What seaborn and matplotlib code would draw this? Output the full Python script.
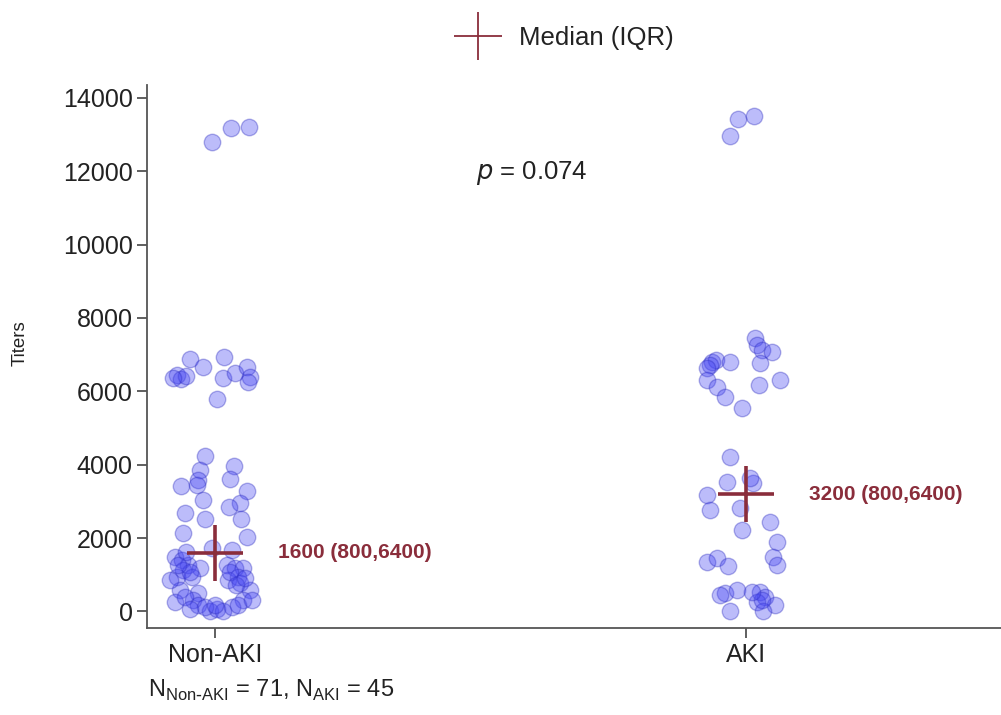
import numpy as np
import pandas as pd
import matplotlib.pyplot as plt
from matplotlib.lines import Line2D
import seaborn as sns

# ---------------------------------------------------------------
# Data
# ---------------------------------------------------------------
groups = ['Non-AKI', 'AKI']

# Non-AKI: titer values and horizontal jitter (in category units)
nonaki_titer = [12800, 13180, 13210,
                6442, 6333, 6414, 6360, 6877, 6659, 6931, 5789, 6360, 6496, 6659, 6387, 6251,
                4240, 3860, 3588, 3452, 3425, 3044, 3968, 3615, 3289, 2963, 2854, 2691, 2528, 2528,
                2147, 2039, 1740, 1685, 1495, 1413, 1277, 1196, 1142, 1277, 1196, 1196, 951, 951,
                870, 951, 788, 598, 598, 516, 326, 326, 245, 190, 0, 54, 0, 109, 190, 109,
                1631, 1087, 1277, 1087, 734, 924, 381, 54, 190, 870, 326]
nonaki_jitter = [-0.006, 0.030, 0.064,
                 -0.072, -0.064, -0.055, -0.079, -0.047, -0.023, 0.017, 0.004, 0.015, 0.038, 0.060, 0.066, 0.062,
                 -0.019, -0.028, -0.032, -0.034, -0.064, -0.023, 0.036, 0.028, 0.060, 0.047, 0.026, -0.056, -0.019, 0.049,
                 -0.060, 0.060, -0.006, 0.032, -0.075, -0.062, -0.051, -0.028, -0.060, 0.023, 0.038, 0.053, -0.072, -0.043,
                 0.024, 0.043, 0.047, 0.066, -0.066, -0.032, -0.041, 0.053, -0.075, -0.032, -0.009, 0.004, 0.015, 0.032, 0.043, -0.019,
                 -0.055, -0.047, -0.070, 0.028, 0.040, 0.056, -0.056, -0.047, 0.000, -0.085, 0.070]

# AKI
aki_titer = [12965, 13427, 13508,
             7447, 7257, 7121, 7067, 6768, 6795, 6849, 6713, 6795, 6632, 6306, 6116, 5844, 5545, 6170, 6306,
             4213, 3533, 3506, 3642, 3180, 2772, 2827, 2446, 2229, 1903, 1359, 1468, 1250, 1495, 1277,
             516, 598, 544, 408, 245, 190, 0, 0, 326, 544, 462]
aki_jitter = [-0.030, -0.015, 0.015,
              0.017, 0.021, 0.030, 0.049, 0.026, -0.064, -0.056, -0.068, -0.030, -0.073, -0.073, -0.055, -0.040, -0.008, 0.024, 0.064,
              -0.030, -0.036, 0.013, 0.008, -0.073, -0.068, -0.011, 0.045, -0.008, 0.058, -0.073, -0.055, -0.034, 0.051, 0.058,
              -0.040, -0.017, 0.026, 0.036, 0.021, 0.055, -0.030, 0.032, 0.030, 0.011, -0.049]

medians = [1600, 3200]
q1 = [800, 800]
q3 = [6400, 6400]
n_counts = [71, 45]
p_value = 0.074

# ---------------------------------------------------------------
# Data frame for seaborn
# ---------------------------------------------------------------
df = pd.DataFrame({
    'group': [groups[0]] * len(nonaki_titer) + [groups[1]] * len(aki_titer),
    'titer': nonaki_titer + aki_titer,
    'jitter': nonaki_jitter + aki_jitter,
})
df['pos'] = df['group'].map({g: i for i, g in enumerate(groups)}) + df['jitter']

# ---------------------------------------------------------------
# Figure
# ---------------------------------------------------------------
sns.set_style('ticks')
plt.rcParams['font.family'] = ['Liberation Sans', 'DejaVu Sans']

maroon = '#8a2d3b'
text_col = '#222222'

fig = plt.figure(figsize=(10.01, 7.15), dpi=100)
ax = fig.add_axes([0.147, 0.1217, 0.853, 0.7594])

sns.scatterplot(data=df, x='pos', y='titer', ax=ax, s=140,
                color='#4646f2', alpha=0.36, edgecolor='#2c2cc0', linewidth=1.0,
                legend=False, zorder=2)

# median cross
for i, m in enumerate(medians):
    ax.plot(i, m, marker='+', markersize=40, markeredgewidth=2.6,
            color=maroon, linestyle='none', zorder=3)
    ax.annotate(f'{m} ({q1[i]},{q3[i]})', xy=(i, m), xytext=(45, 0),
                textcoords='offset points', ha='left', va='center',
                fontsize=15, fontweight='bold', color=maroon)

ax.text(0.597, 11950, f'$p$ = {p_value:.3f}', ha='center', va='center',
        fontsize=18.5, color=text_col)

ax.set_xlim(-0.128, 1.48)
ax.set_ylim(-450, 14350)
ax.set_xticks(range(len(groups)))
ax.set_xticklabels(groups)
ax.set_yticks(np.arange(0, 14001, 2000))
ax.set_xlabel('')
ax.set_ylabel('')
ax.tick_params(axis='both', labelsize=18, colors='#444444', labelcolor=text_col,
               length=7, width=1.2)
sns.despine(ax=ax)
for sp in ['left', 'bottom']:
    ax.spines[sp].set_color('#555555')
    ax.spines[sp].set_linewidth(1.3)

fig.text(20 / 1001, 1 - 343 / 715, 'Titers', rotation=90, ha='center', va='center',
         fontsize=13.5, color=text_col)

fig.text(148 / 1001, 1 - 690 / 715,
         r'N$_{\mathregular{Non\text{-}AKI}}$ = ' + str(n_counts[0]) +
         r', N$_{\mathregular{AKI}}$ = ' + str(n_counts[1]),
         ha='left', va='center', fontsize=17, color=text_col)

handle = Line2D([], [], marker='+', markersize=34, markeredgewidth=1.3,
                color=maroon, linestyle='none')
fig.legend([handle], ['Median (IQR)'], loc='center', bbox_to_anchor=(0.5625, 0.947),
           frameon=False, fontsize=18.5, handletextpad=0.6, labelcolor=text_col)

fig.savefig('out.png', dpi=100)
